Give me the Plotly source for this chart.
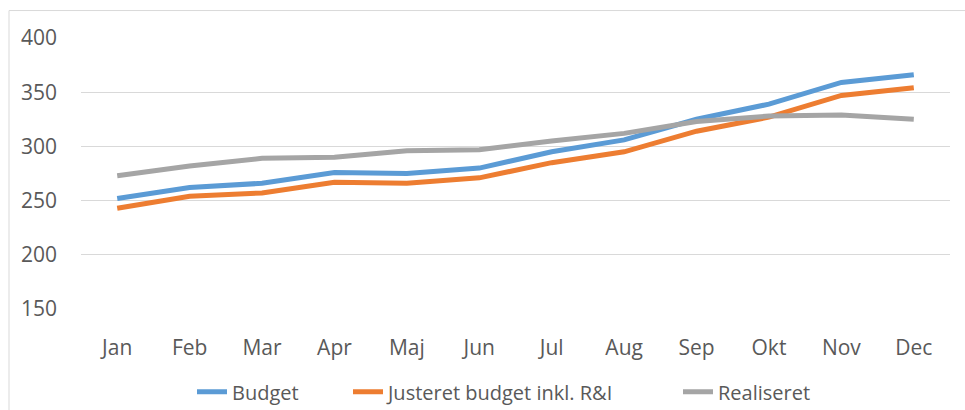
import plotly.graph_objects as go

months = ["Jan", "Feb", "Mar", "Apr", "Maj", "Jun", "Jul", "Aug", "Sep", "Okt", "Nov", "Dec"]
budget = [252, 262, 266, 276, 275, 280, 295, 306, 325, 339, 359, 366]
justeret = [243, 254, 257, 267, 266, 271, 285, 295, 314, 327, 347, 354]
realiseret = [273, 282, 289, 290, 296, 297, 305, 312, 323, 328, 329, 325]

series_names = ["Budget", "Justeret budget inkl. R&I", "Realiseret"]
colors = ["#5B9BD5", "#ED7D31", "#A5A5A5"]
legend_ids = ["legend2", "legend3", "legend4"]

# plot area in pixels
L, R, T, B = 81, 950, 37.5, 309
W, H = R - L, B - T

def px_x(p):
    return (p - L) / W

def px_y(p):
    return (B - p) / H

fig = go.Figure()
for name, vals, col, lg in zip(series_names, [budget, justeret, realiseret], colors, legend_ids):
    fig.add_trace(go.Scatter(x=months, y=vals, name=name, mode="lines",
                             line=dict(color=col, width=5), legend=lg))

font_family = "Open Sans, sans-serif"
legend_y = px_y(392)
common_leg = dict(orientation="h", xanchor="left", yanchor="middle", y=legend_y,
                  font=dict(size=20, color="#595959", family=font_family),
                  bgcolor="rgba(0,0,0,0)", borderwidth=0)

fig.update_layout(
    width=965, height=410,
    margin=dict(l=L, r=965 - R, t=T, b=410 - B, autoexpand=False),
    paper_bgcolor="white", plot_bgcolor="white",
    font=dict(family=font_family, color="#595959", size=20),
    xaxis=dict(type="category", range=[-0.5, 11.5], showgrid=False, showline=False,
               zeroline=False, ticks="", ticklabelstandoff=24, automargin=False,
               tickfont=dict(size=21, color="#595959")),
    yaxis=dict(range=[150, 400], tickvals=[150, 200, 250, 300, 350, 400],
               showgrid=True, gridcolor="#D9D9D9", gridwidth=1, zeroline=False,
               showline=False, ticks="", ticklabelstandoff=23, automargin=False,
               tickfont=dict(size=21, color="#595959")),
    legend2=dict(x=px_x(230 - 38), **common_leg),
    legend3=dict(x=px_x(386 - 38), **common_leg),
    legend4=dict(x=px_x(716 - 38), **common_leg),
    shapes=[dict(type="rect", xref="paper", yref="paper",
                 x0=px_x(9), x1=px_x(990),
                 y0=px_y(430), y1=px_y(10),
                 line=dict(color="#D9D9D9", width=1), fillcolor="rgba(0,0,0,0)",
                 layer="below")],
)

fig.write_html("out.html", config={"displayModeBar": False},
               post_script="document.body.style.margin='0';")
